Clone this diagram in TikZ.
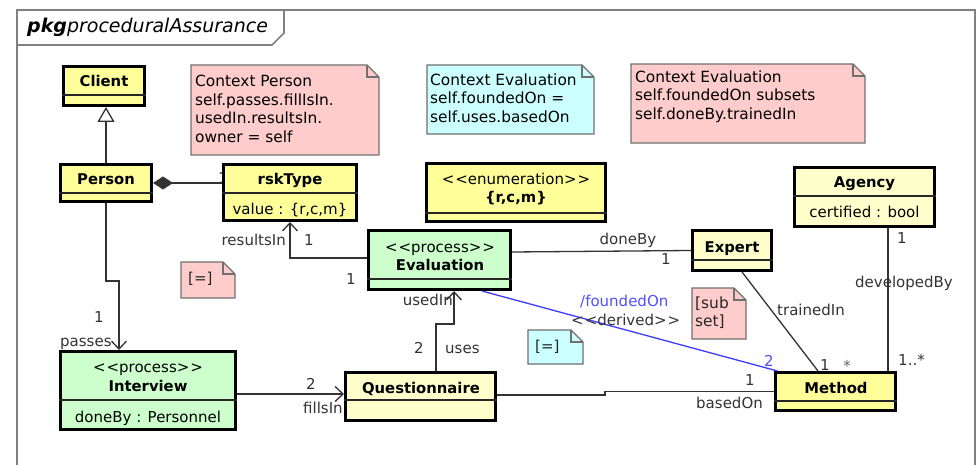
\documentclass[tikz,border=0pt]{standalone}
\usepackage{fontspec}
\setmainfont{DejaVu Sans}
\usetikzlibrary{arrows.meta}

\definecolor{clsyellow}{HTML}{FFFF99}
\definecolor{clspale}{HTML}{FFFFCC}
\definecolor{clsgreen}{HTML}{CCFFCC}
\definecolor{notepink}{HTML}{FFCCCC}
\definecolor{notecyan}{HTML}{CCFFFF}
\definecolor{derivblue}{HTML}{3C3CFF}
\definecolor{derivtext}{HTML}{5050FF}
\definecolor{inkgray}{HTML}{333333}
\definecolor{framegray}{HTML}{808080}
\definecolor{notegray}{HTML}{707070}

\newcommand\rfont{\fontsize{15}{18}\selectfont}
\newcommand\bfnt{\fontsize{14.8}{17}\selectfont\bfseries}
% stereotype brackets, kept apart so they are not turned into guillemets
\newcommand\stereo[1]{<\kern1pt<#1>\kern1pt>}

% class box: name, x1, y1, x2, y2, fill
\newcommand\umlbox[6]{\node[cls,fill=#6,minimum width={#4-#2-2.6},minimum height={#5-#3-2.6}] (#1) at (#2,#3) {};}
% compartment line inside a class box
\newcommand\umlsep[2]{\draw[sep] (#1.west |- 0,#2) -- (#1.east |- 0,#2);}
% note with folded corner: x1, y1, x2, y2, fill
\newcommand\umlnote[5]{%
  \filldraw[note,fill=#5] (#1,#2) -- (#3-12,#2) -- (#3,#2+12) -- (#3,#4) -- (#1,#4) -- cycle;
  \draw[note] (#3-12,#2) -- (#3-12,#2+12) -- (#3,#2+12);}

\tikzset{
  cls/.style={draw=black, line width=2.6pt, inner sep=0pt, anchor=north west, rectangle},
  sep/.style={draw=black!85, line width=1.2pt},
  note/.style={draw=notegray, line width=1.3pt, line join=miter},
  frame/.style={draw=framegray, line width=1.6pt},
  conn/.style={draw=inkgray, line width=1.3pt},
  nav/.style={conn, -{Straight Barb[length=8pt,width=15pt]}},
  gen/.style={conn, -{Triangle[open,length=15pt,width=17pt,fill=white]}},
  comp/.style={conn, {Diamond[length=20pt,width=13pt]}-},
  derived/.style={draw=derivblue, line width=1.3pt},
  lbl/.style={inner sep=0pt, text=inkgray, font=\rfont},
  cname/.style={inner sep=0pt, anchor=base, font=\bfnt},
  ctext/.style={inner sep=0pt, anchor=base, font=\rfont},
  ntext/.style={inner sep=0pt, anchor=north west, align=left, font=\fontsize{15.4}{18.5}\selectfont},
}

\begin{document}
\begin{tikzpicture}[x=1pt,y=-1pt]
\fill[white] (0,0) rectangle (979,465);
\useasboundingbox (0,0) rectangle (979,465);

% package frame and its name tab
\draw[frame] (17,465) -- (17,10) -- (975,10) -- (975,465);
\draw[frame] (17,45) -- (272,45) -- (284,33) -- (284,10);
\node[anchor=base west, inner sep=0pt, font=\fontsize{19}{22}\selectfont\itshape] (title) at (27,33) {\textbf{pkg}proceduralAssurance};

% constraint notes
\umlnote{191}{65}{379}{155}{notepink}
\node[ntext] (n-person) at (195,73.5) {\strut Context Person\\self.passes.fillIsIn.\\usedIn.resultsIn.\\owner = self};
\umlnote{427}{65}{594}{134}{notecyan}
\node[ntext] (n-eq) at (430,72) {\strut Context Evaluation\\self.foundedOn =\\self.uses.basedOn};
\umlnote{631}{64}{865}{143}{notepink}
\node[ntext] (n-subset) at (635,69) {\strut Context Evaluation\\self.foundedOn subsets\\self.doneBy.trainedIn};
\umlnote{181}{262}{235}{298}{notepink}
\node[lbl, text=black!85, anchor=base west] (n-eq1) at (188,283) {[=]};
\umlnote{528}{330}{583}{364}{notecyan}
\node[lbl, text=black!85, anchor=base west] (n-eq2) at (535,351) {[=]};
\umlnote{692}{288}{746}{339}{notepink}
\node[ntext, text=black!85] (n-sub) at (695,295) {\strut [sub\\set]};

% multiplicity tucked behind rskType
\node[lbl, anchor=base west] (m-comp) at (218,184) {1};

% classes
\umlbox{client}{62}{65}{146}{107}{clsyellow}
\umlsep{client}{95}
\node[cname] (t-client) at (104,87) {Client};

\umlbox{person}{59}{163}{153}{203}{clsyellow}
\umlsep{person}{193}
\node[cname] (t-person) at (106,185) {Person};

\umlbox{rsktype}{222}{163}{358}{222}{clsyellow}
\umlsep{rsktype}{193}
\node[cname] (t-rsk) at (290,185) {rskType};
\node[ctext] (a-rsk) at (290,214) {value : \{r,c,m\}};

\umlbox{enum}{425}{162}{607}{223}{clsyellow}
\umlsep{enum}{213}
\node[ctext] (s-enum) at (516,185) {\stereo{enumeration}};
\node[cname] (t-enum) at (516,203) {\{r,c,m\}};

\umlbox{agency}{793}{166}{936}{228}{clspale}
\umlsep{agency}{196}
\node[cname] (t-agency) at (864.5,188) {Agency};
\node[ctext] (a-agency) at (864.5,218) {certified : bool};

\umlbox{evaluation}{367}{229}{512}{291}{clsgreen}
\umlsep{evaluation}{279}
\node[ctext] (s-eval) at (440,252) {\stereo{process}};
\node[cname] (t-eval) at (440,270) {Evaluation};

\umlbox{expert}{691}{229}{773}{272}{clspale}
\umlsep{expert}{260}
\node[cname] (t-expert) at (732,252) {Expert};

\umlbox{interview}{59}{350}{237}{431}{clsgreen}
\umlsep{interview}{400}
\node[ctext] (s-int) at (148,372) {\stereo{process}};
\node[cname] (t-int) at (148,391) {Interview};
\node[ctext] (a-int) at (148,422) {doneBy : Personnel};

\umlbox{questionnaire}{344}{371}{497}{422}{clspale}
\umlsep{questionnaire}{400}
\node[cname] (t-quest) at (421,393) {Questionnaire};

\umlbox{method}{774}{371}{897}{412}{clsyellow}
\umlsep{method}{401}
\node[cname] (t-method) at (836,393) {Method};

% relationships
\draw[gen] (person.north) -- (person.north |- client.south);
\draw[comp] (person.east) -- (person.east -| rsktype.west);
\draw[nav] ([yshift=2pt]evaluation.west) -| (rsktype.south);
\draw[conn] ([yshift=8pt]evaluation.east) -- (expert.west);
\draw[nav] (person.south) -- ++(0,78) -| ([xshift=-29pt]interview.north);
\draw[nav] ([yshift=-3.5pt]interview.east) coordinate (fa) -- (fa -| questionnaire.west);
\draw[nav] ([xshift=15.5pt]questionnaire.north) -- ++(0,-47) -| ([xshift=14.5pt]evaluation.south);
\draw[conn] ([yshift=1.5pt]questionnaire.east) -- ++(108,0) |- (method.west);
\draw[conn] ([xshift=10pt]expert.south) -- ([xshift=-17.5pt]method.north);
\draw[conn] ([xshift=23.5pt]agency.south) coordinate (da) -- (da |- method.north);
\draw[derived] ([xshift=42.5pt]evaluation.south) -- ([xshift=-58pt]method.north);

% role names and multiplicities
\node[lbl, anchor=base east] (r-results) at (286,245) {resultsIn};
\node[lbl, anchor=base west] (m-results) at (304,245) {1};
\node[lbl, anchor=base west] (m-eval) at (346,284) {1};
\node[lbl, anchor=base] (r-doneby) at (628,244) {doneBy};
\node[lbl, anchor=base] (m-doneby) at (666,264) {1};
\node[lbl, anchor=base east] (r-usedin) at (453,305) {usedIn};
\node[lbl, anchor=base] (m-uses) at (419,353) {2};
\node[lbl, anchor=base west] (r-uses) at (445,353) {uses};
\node[lbl, anchor=base] (m-passes) at (99,322) {1};
\node[lbl, anchor=base west] (r-passes) at (60,346) {passes};
\node[lbl, anchor=base] (m-fills) at (311,389) {2};
\node[lbl, anchor=base west] (r-fills) at (303,413) {fillsIn};
\node[lbl, anchor=base] (m-based) at (750,385) {1};
\node[lbl, anchor=base east] (r-based) at (763,408) {basedOn};
\node[lbl, anchor=base west] (r-trained) at (777,315) {trainedIn};
\node[lbl, anchor=base] (m-trained) at (825,370) {1};
\node[lbl, anchor=base, text=black!60] (m-star) at (847,371) {*};
\node[lbl, anchor=base west] (r-dev) at (855,287) {developedBy};
\node[lbl, anchor=base west] (m-dev1) at (897,243) {1};
\node[lbl, anchor=base west] (m-dev2) at (898,365) {1..*};
\node[lbl, anchor=base west, text=derivtext] (r-founded) at (580,306) {/foundedOn};
\node[lbl, anchor=base west] (s-derived) at (571,325) {\stereo{derived}};
\node[lbl, anchor=base, text=derivtext] (m-founded) at (769,366) {2};
\end{tikzpicture}
\end{document}
